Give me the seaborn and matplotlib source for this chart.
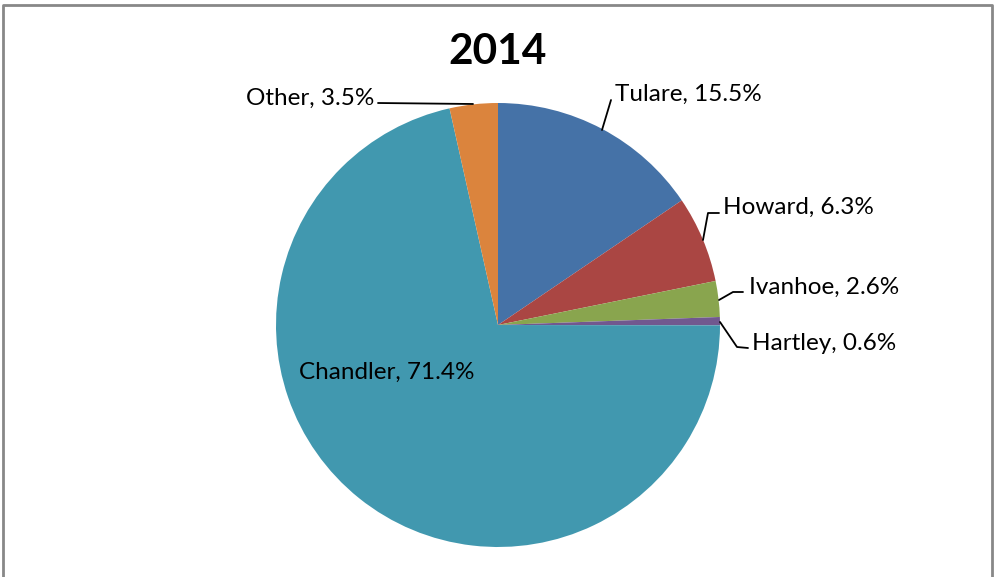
import matplotlib
matplotlib.use("Agg")
import matplotlib.pyplot as plt
import seaborn as sns

categories = ["Tulare", "Howard", "Ivanhoe", "Hartley", "Chandler", "Other"]
values = [15.5, 6.3, 2.6, 0.6, 71.4, 3.5]
colors = ["#4572A7", "#AA4643", "#89A54E", "#71588F", "#4198AF", "#DB843D"]
title = "2014"

sns.set_theme(style="white")
plt.rcParams['font.family'] = ['Lato', 'DejaVu Sans']

W, H = 994, 577
fig = plt.figure(figsize=(W / 100, H / 100), dpi=100)
ax = fig.add_axes([0, 0, 1, 1])

def Y(py):
    return H - py

cx, cy, r = 498, Y(325), 222
ax.pie(values, colors=colors, startangle=90, counterclock=False,
       center=(cx, cy), radius=r, frame=True,
       wedgeprops=dict(linewidth=0))
ax.set_xlim(0, W)
ax.set_ylim(0, H)
ax.set_aspect('equal')
ax.axis('off')

fs = 17.5
lbl = [f"{c}, {v}%" for c, v in zip(categories, values)]

ax.text(615, Y(94), lbl[0], fontsize=fs, ha='left', va='center', color='black')
ax.plot([602, 611], [Y(130), Y(100)], color='black', lw=1.3)

ax.text(723, Y(207), lbl[1], fontsize=fs, ha='left', va='center', color='black')
ax.plot([703, 708, 719], [Y(240), Y(213), Y(213)], color='black', lw=1.3)

ax.text(749, Y(287), lbl[2], fontsize=fs, ha='left', va='center', color='black')
ax.plot([719, 733, 743], [Y(300), Y(292), Y(292)], color='black', lw=1.3)

ax.text(752, Y(343), lbl[3], fontsize=fs, ha='left', va='center', color='black')
ax.plot([720, 737, 748], [Y(322), Y(347), Y(348)], color='black', lw=1.3)

ax.text(387, Y(372), lbl[4], fontsize=fs, ha='center', va='center', color='black')

ax.text(374, Y(98), lbl[5], fontsize=fs, ha='right', va='center', color='black')
ax.plot([378, 473], [Y(103), Y(104)], color='black', lw=1.3)

ax.text(498, Y(52), title, fontsize=30.5, fontweight='bold', ha='center', va='center', color='black')

ax.plot([3, 3, 992, 992], [0, Y(4.5), Y(4.5), 0], color='#888888', lw=2, clip_on=False)

fig.savefig("out.png", dpi=100)
